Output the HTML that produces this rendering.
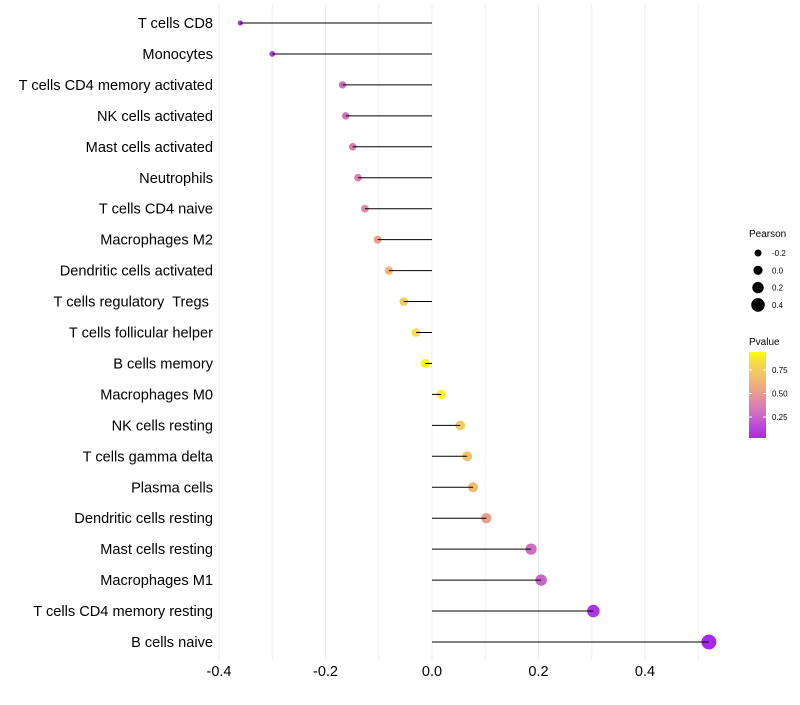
<!DOCTYPE html>
<html><head><meta charset="utf-8"><style>
body{margin:0;background:#fff;font-family:"Liberation Sans",sans-serif}
text{white-space:pre}
</style></head><body>
<svg id="chart" width="800" height="700" font-family="Liberation Sans, sans-serif"></svg>
<script>
const categories=["T cells CD8","Monocytes","T cells CD4 memory activated","NK cells activated","Mast cells activated","Neutrophils","T cells CD4 naive","Macrophages M2","Dendritic cells activated","T cells regulatory  Tregs ","T cells follicular helper","B cells memory","Macrophages M0","NK cells resting","T cells gamma delta","Plasma cells","Dendritic cells resting","Mast cells resting","Macrophages M1","T cells CD4 memory resting","B cells naive"];
const pearson=[-0.36,-0.30,-0.168,-0.162,-0.149,-0.139,-0.126,-0.102,-0.081,-0.053,-0.030,-0.013,0.017,0.053,0.066,0.077,0.102,0.186,0.205,0.303,0.52];
const pvalues=[0.08,0.12,0.3,0.33,0.37,0.4,0.44,0.55,0.66,0.78,0.88,0.97,0.98,0.78,0.72,0.68,0.55,0.3,0.27,0.08,0.03];
const xTicks=[-0.4,-0.2,0,0.2,0.4];
const xMinor=[-0.3,-0.1,0.1,0.3,0.5];
const sizeLegend=[-0.2,0,0.2,0.4];
const colorTicks=[0.25,0.5,0.75];
const NS="http://www.w3.org/2000/svg";
const svg=document.getElementById('chart');
function mk(t,a,p){const e=document.createElementNS(NS,t);for(const k in a)e.setAttribute(k,a[k]);(p||svg).appendChild(e);return e;}
const x=v=>432+v*532.5;
const y=i=>23+i*30.95;
const rad=v=>Math.max(1.8,4.6+5.5*v);
const stops=[[0,[160,32,240]],[0.3,[208,110,195]],[0.5,[228,150,150]],[0.7,[242,190,110]],[0.85,[246,215,80]],[1,[255,255,0]]];
function col(p){for(let i=1;i<stops.length;i++){if(p<=stops[i][0]){const [p0,a]=stops[i-1],[p1,b]=stops[i];const f=(p-p0)/(p1-p0);return `rgb(${a.map((c,k)=>Math.round(c+(b[k]-c)*f)).join(',')})`;}}return 'rgb(255,255,0)';}
xMinor.forEach(v=>{const l=mk('line',{x1:x(v),x2:x(v),y1:5,y2:660,stroke:'#f0f0f0','stroke-width':1});
});
xTicks.forEach(v=>{const l=mk('line',{x1:x(v),x2:x(v),y1:5,y2:660,stroke:'#ebebeb','stroke-width':1});

const t=mk('text',{x:x(v),y:676,'text-anchor':'middle','font-size':14.5,fill:'#000'});t.textContent=v===0?'0.0':v.toFixed(1);
});
categories.forEach((c,i)=>{
const t=mk('text',{x:213,y:y(i)+5,'text-anchor':'end','font-size':14.6,fill:'#000'});t.textContent=c;

const pt=mk('circle',{cx:x(pearson[i]),cy:y(i),r:rad(pearson[i]),fill:col(pvalues[i])});

const s=mk('line',{x1:x(0),x2:x(pearson[i]),y1:y(i),y2:y(i),stroke:'#000','stroke-width':1});
});
let t=mk('text',{x:749,y:237,'font-size':10});t.textContent='Pearson';

sizeLegend.forEach((v,i)=>{const yy=253+i*17.3;const c=mk('circle',{cx:758,cy:yy,r:rad(v),fill:'#000'});

const tt=mk('text',{x:772,y:yy+3,'font-size':8});tt.textContent=v===0?'0.0':v.toString();
});
t=mk('text',{x:749,y:345,'font-size':10});t.textContent='Pvalue';

const defs=mk('defs',{});const g=mk('linearGradient',{id:'pg',x1:0,y1:1,x2:0,y2:0},defs);
for(let k=0;k<=10;k++){const p=0.03+k*0.095;mk('stop',{offset:k/10,'stop-color':col(Math.min(1,p))},g);}
const bar=mk('rect',{x:749,y:352,width:17,height:86,fill:'url(#pg)'});

colorTicks.forEach(v=>{const yy=440.5-v*94;mk('line',{x1:749,x2:752,y1:yy,y2:yy,stroke:'#fff'});mk('line',{x1:763,x2:766,y1:yy,y2:yy,stroke:'#fff'});
const tt=mk('text',{x:772,y:yy+3,'font-size':8});tt.textContent=v.toFixed(2);
});
</script>
</body></html>
